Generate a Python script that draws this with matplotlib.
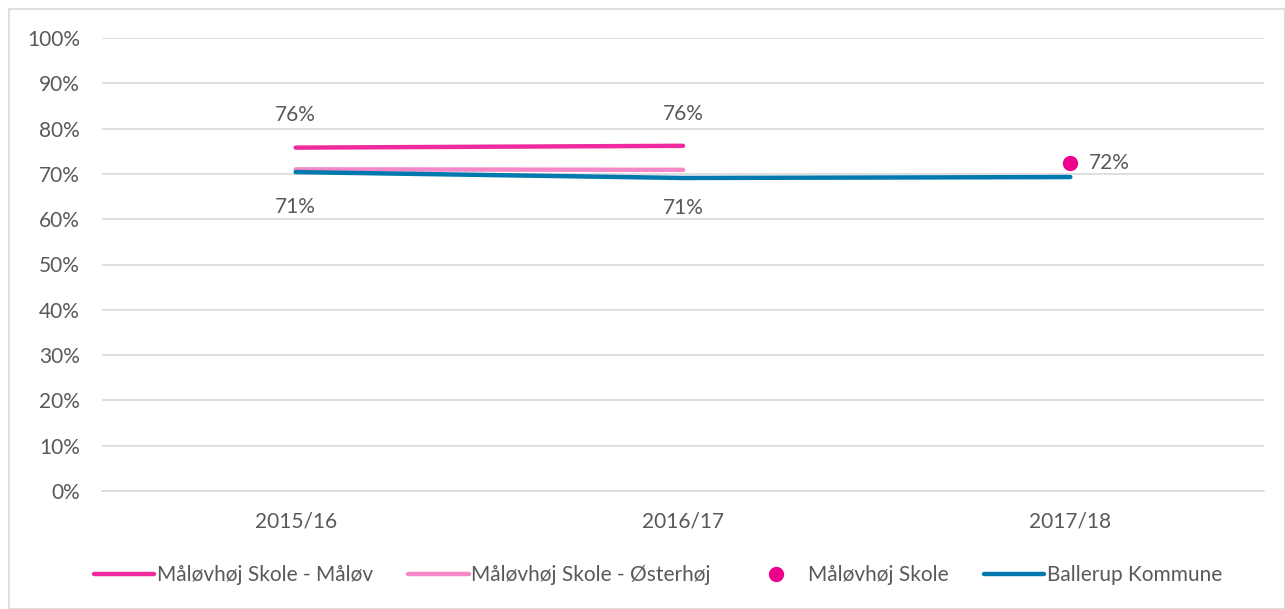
import matplotlib.pyplot as plt
from matplotlib.patches import Rectangle

plt.rcParams['font.family'] = ['Lato', 'DejaVu Sans']

years = ['2015/16', '2016/17', '2017/18']
maalov = [75.8, 76.2]
osterhoj = [71.0, 70.9]
skole = [72.4]
ballerup = [70.4, 69.1, 69.3]

maalov_labels = ['76%', '76%']
osterhoj_labels = ['71%', '71%']
skole_labels = ['72%']

txt = '#595959'
fs = 15
fig = plt.figure(figsize=(12.85, 6.09), dpi=100)
ax = fig.add_axes([102 / 1285, 118 / 609, (1264 - 102) / 1285, (491 - 38) / 609])

# outer frame of the chart
fig.patches.append(Rectangle((9 / 1285, 0), 1 - 9 / 1285, 1 - 9 / 609, transform=fig.transFigure,
                             fill=False, edgecolor='#D9D9D9', linewidth=1.2))

x = list(range(len(years)))
ax.plot(x[:2], maalov, color='#EE2A9E', lw=3.2, solid_capstyle='round', label='Måløvhøj Skole - Måløv', zorder=3)
ax.plot(x[:2], osterhoj, color='#F588C8', lw=3.2, solid_capstyle='round', label='Måløvhøj Skole - Østerhøj', zorder=3)
ax.plot(x[2:], skole, 'o', color='#EC008C', ms=10, label='Måløvhøj Skole', zorder=4)
ax.plot(x, ballerup, color='#0079AE', lw=3.2, solid_capstyle='round', label='Ballerup Kommune', zorder=3)

for i, (v, s) in enumerate(zip(maalov, maalov_labels)):
    ax.annotate(s, (x[i], v), xytext=(0, 16), textcoords='offset points',
                ha='center', va='bottom', fontsize=fs, color=txt)
for i, (v, s) in enumerate(zip(osterhoj, osterhoj_labels)):
    ax.annotate(s, (x[i], v), xytext=(0, -20), textcoords='offset points',
                ha='center', va='top', fontsize=fs, color=txt)
for v, s in zip(skole, skole_labels):
    ax.annotate(s, (x[2], v), xytext=(13, 0), textcoords='offset points',
                ha='left', va='center', fontsize=fs, color=txt)

ax.set_xlim(-0.5, 2.5)
ax.set_ylim(0, 100)
ax.set_yticks(range(0, 101, 10))
ax.set_yticklabels([f'{t}%' for t in range(0, 101, 10)])
ax.set_xticks(x)
ax.set_xticklabels(years)
ax.tick_params(axis='both', length=0, labelsize=fs, labelcolor=txt)
ax.tick_params(axis='y', pad=16)
ax.tick_params(axis='x', pad=15)
ax.grid(axis='y', color='#D9D9D9', lw=1.2)
ax.set_axisbelow(True)
for sp in ['top', 'right', 'left']:
    ax.spines[sp].set_visible(False)
ax.spines['bottom'].set_color('#D9D9D9')
ax.spines['bottom'].set_linewidth(1.2)

fig.legend(loc='center', bbox_to_anchor=(0.512, 1 - 575 / 609), ncol=4, frameon=False,
           fontsize=fs, labelcolor=txt, handlelength=2.9, handletextpad=0.1, columnspacing=1.7)

fig.savefig('out.png', dpi=100)
